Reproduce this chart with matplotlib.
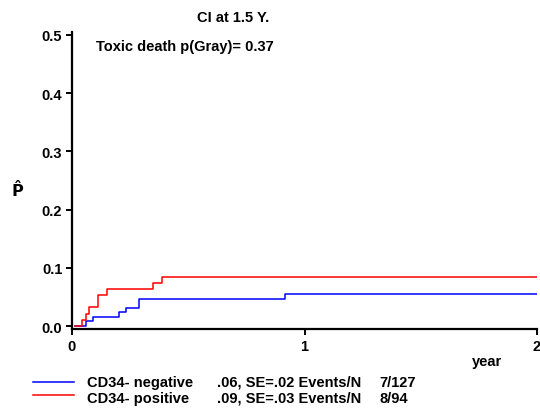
import numpy as np
import matplotlib
matplotlib.use("Agg")
import matplotlib.pyplot as plt
from matplotlib.lines import Line2D

plt.rcParams['font.family'] = ['Liberation Sans', 'DejaVu Sans']
plt.rcParams['font.weight'] = 'bold'

# cumulative incidence step curves (years, P)
neg_t = [0.013, 0.060, 0.092, 0.203, 0.231, 0.290, 0.915, 2.0]
neg_p = [0.0, 0.008, 0.016, 0.024, 0.031, 0.047, 0.055, 0.055]
pos_t = [0.013, 0.042, 0.060, 0.075, 0.111, 0.152, 0.348, 0.389, 2.0]
pos_p = [0.0, 0.011, 0.021, 0.032, 0.053, 0.064, 0.074, 0.085, 0.085]

groups = ['CD34- negative', 'CD34- positive']
stats = ['.06, SE=.02 Events/N', '.09, SE=.03 Events/N']
counts = ['7/127', '8/94']
colors = ['#0000ff', '#ff0000']

fig = plt.figure(figsize=(5.4, 4.1), dpi=100)
ax = fig.add_axes([72/540, 80/410, 465/540, 297/410])

ax.step(neg_t, neg_p, where='post', color=colors[0], lw=1.1)
ax.step(pos_t, pos_p, where='post', color=colors[1], lw=1.1)

ax.set_xlim(0, 2.0)
ax.set_ylim(-0.005, 0.505)
ax.set_xticks([0, 1, 2])
ax.set_yticks([0.0, 0.1, 0.2, 0.3, 0.4, 0.5])
ax.set_yticklabels(['0.0', '0.1', '0.2', '0.3', '0.4', '0.5'])
for s in ['top', 'right']:
    ax.spines[s].set_visible(False)
for s in ['left', 'bottom']:
    ax.spines[s].set_linewidth(1.6)
ax.tick_params(width=1.4, length=4, labelsize=10.5, pad=3)
for lab in ax.get_xticklabels() + ax.get_yticklabels():
    lab.set_fontweight('bold')

fig.text(233/540, 1 - 18/410, 'CI at 1.5 Y.', ha='center', va='center', fontsize=10.5, fontweight='bold')
fig.text(96/540, 1 - 47/410, 'Toxic death p(Gray)= 0.37', ha='left', va='center', fontsize=10.5, fontweight='bold')
fig.text(487/540, 1 - 362/410, 'year', ha='center', va='center', fontsize=10.5, fontweight='bold')
fig.text(18/540, 1 - 190/410, r'$\mathbf{\hat{P}}$', ha='center', va='center', fontsize=11.5)

# legend
line_y = [383, 396]
text_y = [387, 403]
for i in range(2):
    y = 1 - line_y[i]/410
    fig.add_artist(Line2D([33/540, 74/540], [y, y], color=colors[i], lw=1.1))
    ty = 1 - text_y[i]/410
    fig.text(87/540, ty, groups[i], ha='left', va='baseline', fontsize=10.5, fontweight='bold')
    fig.text(217/540, ty, stats[i], ha='left', va='baseline', fontsize=10.5, fontweight='bold')
    fig.text(379/540, ty, counts[i], ha='left', va='baseline', fontsize=10.5, fontweight='bold')

fig.savefig('out.png', dpi=100)
